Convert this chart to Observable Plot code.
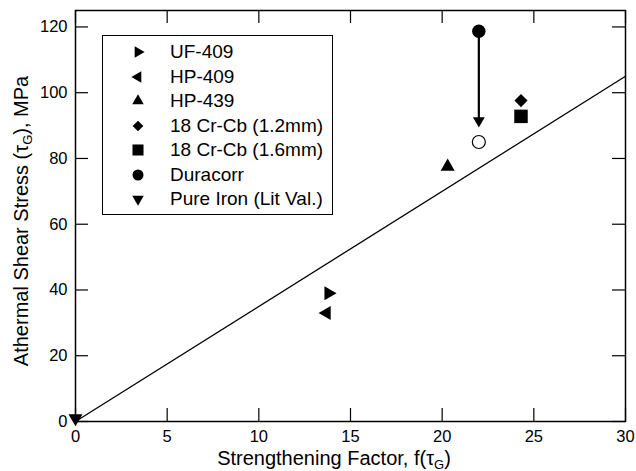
<!DOCTYPE html>
<html>
<head>
<meta charset="utf-8">
<script src="https://cdn.jsdelivr.net/npm/d3@7"></script>
<script src="https://cdn.jsdelivr.net/npm/@observablehq/plot@0.6"></script>
<style>
  body { margin: 0; background: #fff; }
  #wrap { position: relative; width: 636px; height: 471px; font-family: "Liberation Sans", Arial, sans-serif; }
  #legend { position: absolute; left: 102px; top: 35px; width: 229px; height: 172px; padding-top: 4px; padding-bottom: 2px;
            border: 1px solid #000; background: #fff; }
  .row { position: relative; height: 24.5px; line-height: 24.5px; font-size: 19px; color: #000; }
  .row svg { position: absolute; left: 25px; top: 2.25px; }
  .row span { position: absolute; left: 67px; top: 0; white-space: nowrap; }
</style>
</head>
<body>
<div id="wrap"></div>
<script>
// ---- data ----
const seriesNames = ["UF-409", "HP-409", "HP-439", "18 Cr-Cb (1.2mm)", "18 Cr-Cb (1.6mm)", "Duracorr", "Pure Iron (Lit Val.)"];
const factorValues = [13.8, 13.7, 20.3, 24.3, 24.3, 22.0, 0];
const stressValues = [39, 33, 77.5, 97.6, 92.8, 118.7, 1];
const seriesSymbols = ["triangle", "triangle", "triangle", "diamond2", "square", "circle", "triangle"];
const seriesRotations = [90, -90, 0, 0, 0, 0, 180];
const seriesSizes = [5.2, 5.2, 5.2, 5.9, 7.6, 6.7, 5.2];

// corrected Duracorr (open circle) and arrow
const correctedX = [22.0];
const correctedY = [85];
const arrowX = 22.0;
const arrowFromY = 115;
const arrowToY = 89.5;

// fitted line
const fitX = [0, 30];
const fitY = [0, 105];

// ticks
const xTicks = [0, 5, 10, 15, 20, 25, 30];
const yTicks = [0, 20, 40, 60, 80, 100, 120];

const points = seriesNames.map((name, i) => ({
  name, x: factorValues[i], y: stressValues[i], symbol: seriesSymbols[i], rotate: seriesRotations[i], r: seriesSizes[i]
}));
const fitLine = fitX.map((x, i) => ({x, y: fitY[i]}));
const corrected = correctedX.map((x, i) => ({x, y: correctedY[i]}));

const W = 636, H = 471;
const mL = 75, mR = 11, mT = 10, mB = 50;
const innerW = W - mL - mR, innerH = H - mT - mB;
const tickLen = 13;

const chart = Plot.plot({
  width: W, height: H,
  marginLeft: mL, marginRight: mR, marginTop: mT, marginBottom: mB,
  style: { fontFamily: "'Liberation Sans', Arial, sans-serif", fontSize: "16px", color: "#000", background: "#fff" },
  x: { domain: [0, 30] },
  y: { domain: [0, 125] },
  marks: [
    Plot.line(fitLine, { x: "x", y: "y", stroke: "#000", strokeWidth: 1.3 }),
    // inward ticks on all sides
    Plot.tickX(xTicks, { x: d => d, stroke: "#000", strokeWidth: 1.2, insetTop: innerH - tickLen }),
    Plot.tickX(xTicks, { x: d => d, stroke: "#000", strokeWidth: 1.2, insetBottom: innerH - tickLen }),
    Plot.tickY(yTicks, { y: d => d, stroke: "#000", strokeWidth: 1.2, insetRight: innerW - tickLen }),
    Plot.tickY(yTicks, { y: d => d, stroke: "#000", strokeWidth: 1.2, insetLeft: innerW - tickLen }),
    Plot.axisX(xTicks, { tickSize: 0, tickPadding: 9, label: null, fontSize: 16.5 }),
    Plot.axisY(yTicks, { tickSize: 0, tickPadding: 8, label: null, fontSize: 16.5 }),
    // arrow shaft and head
    Plot.ruleX([arrowX], { x: d => d, y1: arrowFromY, y2: arrowToY, stroke: "#000", strokeWidth: 2.2, dy: -8 }),
    Plot.dot([arrowX], { x: d => d, y: arrowToY, symbol: "triangle", rotate: 180, r: 4.4, fill: "#000", stroke: "none", dy: -6.5 }),
    // open circle
    Plot.dot(corrected, { x: "x", y: "y", symbol: "circle", r: 6.5, fill: "#fff", stroke: "#000", strokeWidth: 1.2 }),
    // data points
    Plot.dot(points, { x: "x", y: "y", symbol: d => d.symbol, rotate: "rotate", r: "r", fill: "#000", stroke: "none" }),
    Plot.frame({ stroke: "#000", strokeWidth: 1.5 })
  ],
  r: { type: "identity" },
  symbol: { type: "identity" }
});

const wrap = document.getElementById("wrap");
wrap.appendChild(chart);

// axis titles with subscripts
const svg = d3.select(chart);
const xt = svg.append("text")
  .attr("x", 334).attr("y", 465)
  .attr("text-anchor", "middle")
  .attr("font-size", 20)
  .attr("fill", "#000");
xt.append("tspan").text("Strengthening Factor, f(τ");
xt.append("tspan").attr("font-size", 13).attr("dy", 4).text("G");
xt.append("tspan").attr("dy", -4).text(")");

const yt = svg.append("text")
  .attr("transform", "translate(28,221) rotate(-90)")
  .attr("text-anchor", "middle")
  .attr("font-size", 20)
  .attr("fill", "#000");
yt.append("tspan").text("Athermal Shear Stress (τ");
yt.append("tspan").attr("font-size", 13).attr("dy", 4).text("G");
yt.append("tspan").attr("dy", -4).text("), MPa");

// legend
const legend = document.createElement("div");
legend.id = "legend";
const legendScale = 0.82;
points.forEach(p => {
  const row = document.createElement("div");
  row.className = "row";
  const s = d3.create("svg").attr("width", 20).attr("height", 20);
  const area = Math.PI * Math.pow(p.r * legendScale, 2);
  const symType = { triangle: d3.symbolTriangle, diamond2: d3.symbolDiamond2, square: d3.symbolSquare, circle: d3.symbolCircle }[p.symbol];
  s.append("path")
    .attr("d", d3.symbol(symType, area)())
    .attr("transform", `translate(10,10) rotate(${p.rotate})`)
    .attr("fill", "#000");
  row.appendChild(s.node());
  const t = document.createElement("span");
  t.textContent = p.name;
  row.appendChild(t);
  legend.appendChild(row);
});
wrap.appendChild(legend);
</script>
</body>
</html>
